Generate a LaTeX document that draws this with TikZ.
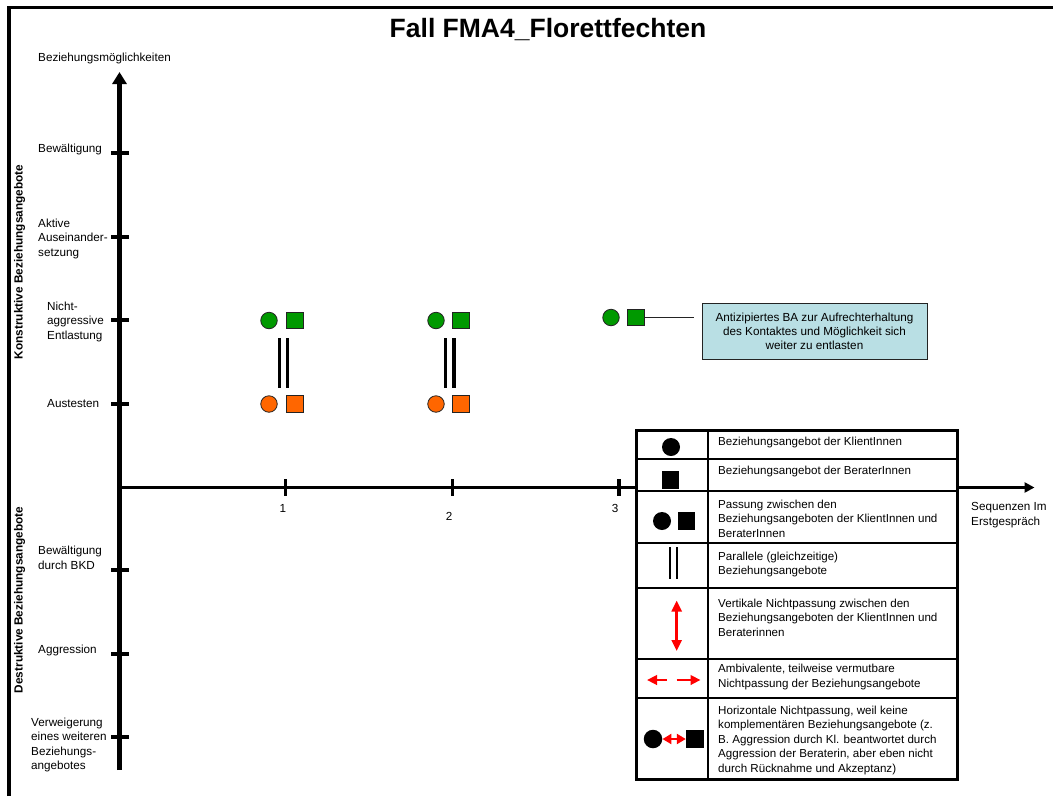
\documentclass[tikz,border=0pt]{standalone}
\usepackage{fontspec}
\setmainfont{Liberation Sans}
\usetikzlibrary{arrows.meta}
\definecolor{bagreen}{RGB}{0,153,0}
\definecolor{baorange}{RGB}{255,102,0}
\definecolor{calloutfill}{RGB}{185,223,228}
\definecolor{shapeedge}{RGB}{35,35,35}
\definecolor{mismatch}{RGB}{255,0,0}

\begin{document}
\begin{tikzpicture}[x=1pt,y=-1pt,
  every node/.style={inner sep=0pt, font=\fontsize{11.7}{14.5}\selectfont},
  lbl/.style={anchor=west, align=left},
  sidelbl/.style={rotate=90, font=\bfseries\fontsize{11.8}{13}\selectfont},
  axisline/.style={line width=4.5pt},
  xaxisline/.style={line width=3.3pt},
  tickmark/.style={line width=3.3pt},
  clientdot/.style={circle, draw=shapeedge, line width=0.8pt, minimum size=16.5pt},
  counsbox/.style={rectangle, draw=shapeedge, line width=0.8pt, minimum size=16.5pt},
  parbar/.style={line width=3.3pt},
  legdot/.style={circle, fill=black, minimum size=18pt},
  legbox/.style={rectangle, fill=black, minimum size=17.5pt},
  legtxt/.style={anchor=west, align=left, font=\fontsize{11.6}{14.5}\selectfont},
  legrule/.style={line width=2pt},
  redarrow/.style={mismatch, line width=2.6pt,
    {Triangle[length=11pt,width=10pt]}-{Triangle[length=11pt,width=10pt]}},
]
\useasboundingbox (0,0) rectangle (1053,796);

% frame
\draw[line width=3.5pt] (9,796) -- (9,7.5) -- (1053,7.5);

% title
\node[font=\bfseries\fontsize{26.5}{30}\selectfont] (title) at (548,30) {Fall FMA4\_Florettfechten};

% axes
\coordinate (yb) at (119.5,770);
\coordinate (yt) at (119.5,72);
\coordinate (org) at (119.5,487.5);
\coordinate (xe) at (1034.5,487.5);
\draw[axisline, -{Triangle[length=12pt,width=14pt]}] (yb) -- (yt);
\draw[xaxisline, -{Triangle[length=10pt,width=10pt]}] (org) -- (xe);

% y ticks
\foreach \yy/\nm in {153/t1,237/t2,320/t3,404/t4,570/t5,654/t6,737/t7}{
  \coordinate (\nm l) at (111,\yy);
  \coordinate (\nm r) at (128.5,\yy);
  \draw[tickmark] (\nm l) -- (\nm r);
}
% x ticks
\foreach \xx/\nm in {285.7/s1,452.5/s2,619/s3}{
  \coordinate (\nm t) at (\xx,479);
  \coordinate (\nm b) at (\xx,496);
  \draw[tickmark] (\nm t) -- (\nm b);
}
\node (n1) at (283,508) {1};
\node (n2) at (449,516) {2};
\node (n3) at (615,508) {3};

% axis labels
\node[lbl] (ytitle) at (38,58) {Beziehungsmöglichkeiten};
\node[lbl] (xtitle) at (971,515) {Sequenzen Im\\Erstgespräch};
\node[lbl] (l1) at (38,149) {Bewältigung};
\node[lbl] (l2) at (38,238.5) {Aktive\\Auseinander-\\setzung};
\node[lbl] (l3) at (47,321.5) {Nicht-\\aggressive\\Entlastung};
\node[lbl] (l4) at (47,404) {Austesten};
\node[lbl] (l5) at (38,558) {Bewältigung\\durch BKD};
\node[lbl] (l6) at (38,650) {Aggression};
\node[lbl] (l7) at (31,745) {Verweigerung\\eines weiteren\\Beziehungs-\\angebotes};

\node[sidelbl] (konstr) at (19.5,262) {Konstruktive Beziehungsangebote};
\node[sidelbl] (destr) at (19.5,600) {Destruktive Beziehungsangebote};

% sequence 1
\node[clientdot, fill=bagreen] (c1a) at (269,320.5) {};
\node[counsbox, fill=bagreen] (b1a) at (294.7,320.5) {};
\node[clientdot, fill=baorange] (c1b) at (269,404) {};
\node[counsbox, fill=baorange] (b1b) at (294.7,404) {};
\coordinate (p1at) at (279.5,338); \coordinate (p1ab) at (279.5,388);
\coordinate (p1bt) at (287.7,338); \coordinate (p1bb) at (287.7,388);
\draw[parbar] (p1at) -- (p1ab);
\draw[parbar] (p1bt) -- (p1bb);

% sequence 2
\node[clientdot, fill=bagreen] (c2a) at (436,320.5) {};
\node[counsbox, fill=bagreen] (b2a) at (461,320.5) {};
\node[clientdot, fill=baorange] (c2b) at (436,404) {};
\node[counsbox, fill=baorange] (b2b) at (461,404) {};
\coordinate (p2at) at (445.7,338); \coordinate (p2ab) at (445.7,388);
\coordinate (p2bt) at (454,338); \coordinate (p2bb) at (454,388);
\draw[parbar] (p2at) -- (p2ab);
\draw[parbar] (p2bt) -- (p2bb);

% sequence 3 with comment
\node[clientdot, fill=bagreen] (c3) at (611,317.5) {};
\node[counsbox, fill=bagreen] (b3) at (636,317.5) {};
\node[draw=shapeedge, line width=0.9pt, fill=calloutfill, minimum width=225pt, minimum height=56pt,
      align=center, font=\fontsize{11.7}{14}\selectfont] (note) at (814.5,331)
  {Antizipiertes BA zur Aufrechterhaltung\\des Kontaktes und Möglichkeit sich\\weiter zu entlasten};
\coordinate (noteend) at (694,317.5);
\draw[line width=0.9pt, shapeedge] (b3.east) -- (noteend);

% legend
\node[fill=white, minimum width=321pt, minimum height=349pt, anchor=north west] (legend) at (636,430) {};
\coordinate (cdt) at (708,430); \coordinate (cdb) at (708,779);
\draw[legrule] (cdt) -- (cdb);
\foreach \yy/\nm in {459/r1,491/r2,543/r3,588/r4,659/r5,698/r6}{
  \coordinate (\nm l) at (636,\yy);
  \coordinate (\nm r) at (957,\yy);
  \draw[legrule] (\nm l) -- (\nm r);
}
\draw[line width=3pt] (legend.north west) rectangle (legend.south east);

\node[legdot] (lg1) at (671,447) {};
\node[legbox] (lg2) at (670.5,480) {};
\node[legdot] (lg3c) at (662,521) {};
\node[legbox] (lg3s) at (686.5,521) {};
\coordinate (lg4at) at (670.3,547); \coordinate (lg4ab) at (670.3,578.5);
\coordinate (lg4bt) at (677,547); \coordinate (lg4bb) at (677,578.5);
\draw[line width=2.2pt] (lg4at) -- (lg4ab);
\draw[line width=2.2pt] (lg4bt) -- (lg4bb);
\coordinate (lg5t) at (676.7,600.5); \coordinate (lg5b) at (676.7,651);
\draw[redarrow] (lg5t) -- (lg5b);
\coordinate (lg6a) at (647,680); \coordinate (lg6b) at (666.5,680);
\coordinate (lg6c) at (676.5,680); \coordinate (lg6d) at (700.5,680);
\draw[mismatch, line width=2.6pt, -{Triangle[length=10pt,width=9.5pt]}] (lg6b) -- (lg6a);
\draw[mismatch, line width=2.6pt, -{Triangle[length=10pt,width=9.5pt]}] (lg6c) -- (lg6d);
\node[legdot, minimum size=18.5pt] (lg7c) at (653,739) {};
\node[legbox, minimum size=18pt] (lg7s) at (695,739) {};
\draw[mismatch, line width=2.6pt,
  {Triangle[length=9pt,width=10pt]}-{Triangle[length=9pt,width=10pt]}] (lg7c.east) -- (lg7s.west);

\node[legtxt] (lt1) at (718,442) {Beziehungsangebot der KlientInnen};
\node[legtxt] (lt2) at (718,471) {Beziehungsangebot der BeraterInnen};
\node[legtxt] (lt3) at (718,518.5) {Passung zwischen den\\Beziehungsangeboten der KlientInnen und\\BeraterInnen};
\node[legtxt] (lt4) at (718,564.5) {Parallele (gleichzeitige)\\Beziehungsangebote};
\node[legtxt] (lt5) at (718,617.5) {Vertikale Nichtpassung zwischen den\\Beziehungsangeboten der KlientInnen und\\Beraterinnen};
\node[legtxt] (lt6) at (718,677) {Ambivalente, teilweise vermutbare\\Nichtpassung der Beziehungsangebote};
\node[legtxt] (lt7) at (718,740) {Horizontale Nichtpassung, weil keine\\komplementären Beziehungsangebote (z.\\B. Aggression durch Kl. beantwortet durch\\Aggression der Beraterin, aber eben nicht\\durch Rücknahme und Akzeptanz)};
\end{tikzpicture}
\end{document}
